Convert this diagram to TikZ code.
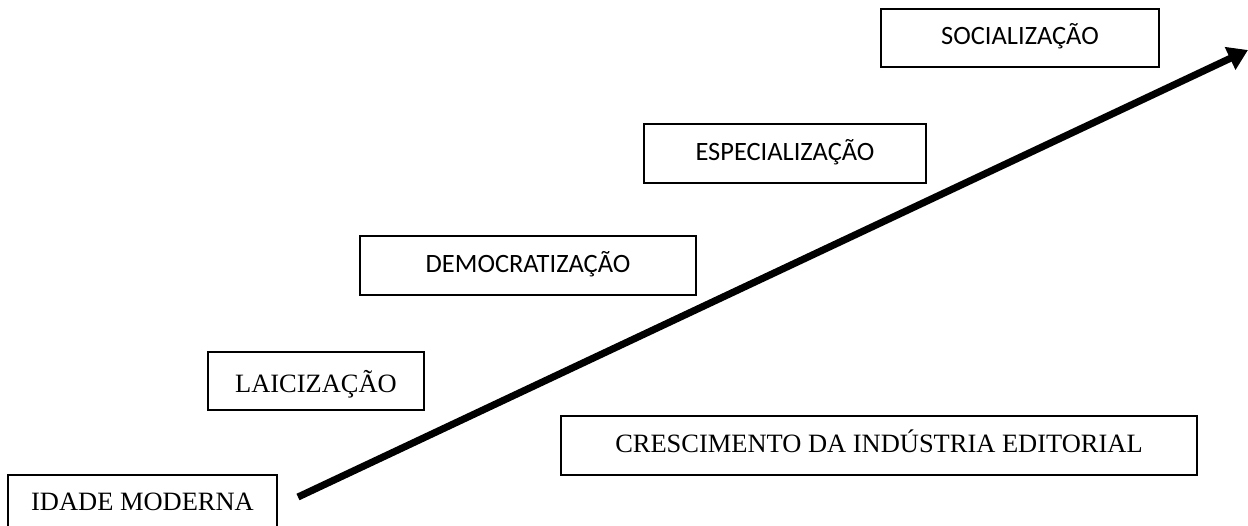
\documentclass[tikz,border=0pt]{standalone}
\usepackage{fontspec}
\setmainfont{Liberation Serif}
\newfontfamily\boxsans{Carlito}
\usepackage{tikz}
\usetikzlibrary{arrows.meta}
\tikzset{
stage/.style={
  draw,
  rectangle,
  line width=0.9pt,
  inner sep=0pt,
  outer sep=0pt,
  align=center,
  text height=1.4ex,
  text depth=0pt,
  minimum height=28pt,
  font=\fontsize{12.7}{15}\selectfont
},
stagesans/.style={
  stage,
  font=\boxsans\fontsize{12.7}{15}\selectfont
},
growth/.style={
  line width=3.4pt,
  -{Triangle[length=9.5pt,width=11.5pt]}
},
}

\begin{document}
\begin{tikzpicture}[x=0.48pt,y=-0.48pt]
\useasboundingbox (0,0) rectangle (1248,525);
% the stages
\node (idade)  [stage, minimum width=129pt] at (142.5,504) {IDADE MODERNA};
\node (laic)   [stage, minimum width=103.7pt, text height=11pt] at (316,381) {LAICIZAÇÃO};
\node (democ)  [stagesans, minimum width=161.3pt] at (528,265.5) {DEMOCRATIZAÇÃO};
\node (espec)  [stagesans, minimum width=135.4pt] at (785,153.5) {ESPECIALIZAÇÃO};
\node (social) [stagesans, minimum width=133.4pt] at (1020,38) {SOCIALIZAÇÃO};
\node (cresc)  [stage, minimum width=305.3pt] at (879,445.5) {CRESCIMENTO DA INDÚSTRIA EDITORIAL};
% the arrow
\coordinate (start) at (298,497);
\coordinate (end) at (1248,50);
\draw[growth] (start) -- (end);
\end{tikzpicture}
\end{document}
